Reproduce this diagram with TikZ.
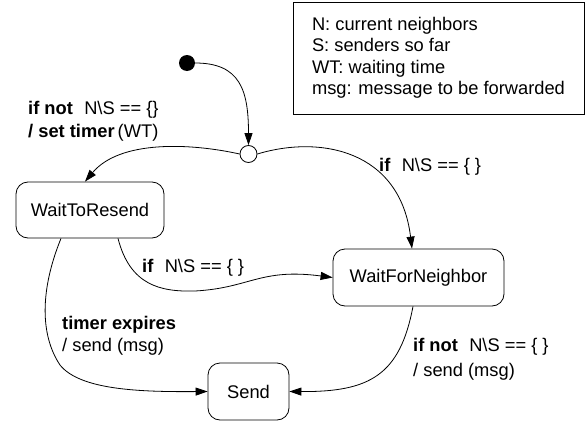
\documentclass[tikz,border=0pt]{standalone}
\usepackage{fontspec}
\setmainfont{Liberation Sans}
\usetikzlibrary{arrows.meta}
\newcommand\labgap{\hspace{0.62em}}
\begin{document}
\begin{tikzpicture}[x=1pt,y=-1pt,
  every node/.style={font=\fontsize{18.3}{23}\selectfont},
  state/.style={draw, rounded corners=12pt, line width=0.8pt, inner sep=0pt},
  conn/.style={line width=0.8pt, -{Triangle[length=12pt,width=8pt]}},
  lbl/.style={anchor=base west, inner sep=0pt}]
\useasboundingbox[fill=white] (0,0) rectangle (587,423);

% legend
\node[draw, line width=0.8pt, minimum width=291pt, minimum height=112pt, align=left, inner sep=0pt,
      font=\fontsize{18.3}{21.5}\selectfont] (legend) at (438.5,58)
  {N: current neighbors\\S: senders so far\\WT: waiting time\\msg: message to be forwarded};

% pseudo states
\node[circle, fill, minimum size=16pt, inner sep=0pt] (init) at (187,63) {};
\node[circle, draw, fill=white, minimum size=17pt, inner sep=0pt, line width=0.8pt] (junc) at (248.5,154) {};

% states
\node[state, minimum width=148pt, minimum height=56pt] (wtr) at (90,210) {WaitToResend};
\node[state, minimum width=171pt, minimum height=57pt] (wfn) at (418.5,277.5) {WaitForNeighbor};
\node[state, minimum width=81pt, minimum height=57pt] (send) at (248.5,391.5) {Send};

% connectors
\draw[conn] (init.east) .. controls (240,63) and (248.5,90) .. (junc.north);
\draw[conn] (junc.west) .. controls (190,143) and (120,140) .. ([xshift=-5pt]wtr.north);
\draw[conn] (junc.east) .. controls (320,135) and (400,150) .. ([xshift=-6.5pt]wfn.north);
\draw[conn] ([xshift=28pt]wtr.south) .. controls (130,285) and (160,292) .. (195,291)
            .. controls (250,288) and (260,268) .. (wfn.west);
\draw[conn] ([xshift=-29pt]wtr.south) .. controls (40,290) and (40,335) .. (60,365)
            .. controls (80,390) and (140,392) .. (send.west);
\draw[conn] ([xshift=-5.5pt]wfn.south) .. controls (400,375) and (370,392) .. (send.east);

% labels
\node[lbl] (l1a) at (28,114.5) {\textbf{if not}\labgap N\textbackslash S == \{\}};
\node[lbl] (l1b) at (28,137.5) {\textbf{/ set timer}\,(WT)};
\node[lbl] (l2) at (379,171) {\textbf{if}\labgap N\textbackslash S == \{ \}};
\node[lbl] (l3) at (142,272.5) {\textbf{if}\labgap N\textbackslash S == \{ \}};
\node[lbl] (l4a) at (62,329.3) {\textbf{timer expires}};
\node[lbl] (l4b) at (62,351.7) {/ send (msg)};
\node[lbl] (l5a) at (413,351.7) {\textbf{if not}\labgap N\textbackslash S == \{ \}};
\node[lbl] (l5b) at (413,376) {/ send (msg)};
\end{tikzpicture}
\end{document}
